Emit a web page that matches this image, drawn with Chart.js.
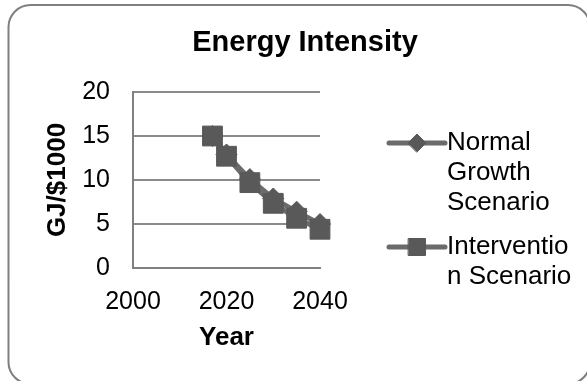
<!DOCTYPE html>
<html>
<head>
<meta charset="utf-8">
<title>Energy Intensity</title>
<script src="https://cdn.jsdelivr.net/npm/chart.js@4/dist/chart.umd.min.js"></script>
<style>
  html, body { margin: 0; padding: 0; background: #fff; }
  #wrap { width: 587px; height: 381px; }
</style>
</head>
<body>
<div id="wrap"><canvas id="c" width="587" height="381"></canvas></div>
<script>
// Years sampled by both scenarios
const years = [2017, 2020, 2025, 2030, 2035, 2040];
// Energy intensity, GJ per $1000
const normalGrowth = [15.0, 12.9, 10.1, 7.9, 6.4, 5.0];
const intervention = [15.0, 12.7, 9.7, 7.35, 5.65, 4.4];
// Legend text, wrapped the way it is shown
const normalLabel = ['Normal', 'Growth', 'Scenario'];
const interventionLabel = ['Interventio', 'n Scenario'];
// Axis ranges and tick spacing
const xRange = [2000, 2040], xStep = 20;
const yRange = [0, 20], yStep = 5;

const FONT = '"Liberation Sans", Arial, Helvetica, sans-serif';
const LINE = '#6b6b6b';
const MARK = '#595959';

const toPoints = vals => years.map((yr, i) => ({ x: yr, y: vals[i] }));

// Rounded frame around the whole chart
const framePlugin = {
  id: 'frame',
  beforeDraw(chart) {
    const ctx = chart.ctx;
    const x0 = 8.5, y0 = 5, x1 = 590, y1 = 384, r = 22;
    ctx.save();
    ctx.fillStyle = '#fff';
    ctx.fillRect(0, 0, chart.width, chart.height);
    ctx.beginPath();
    ctx.moveTo(x0 + r, y0);
    ctx.lineTo(x1 - r, y0);
    ctx.arcTo(x1, y0, x1, y0 + r, r);
    ctx.lineTo(x1, y1 - r);
    ctx.arcTo(x1, y1, x1 - r, y1, r);
    ctx.lineTo(x0 + r, y1);
    ctx.arcTo(x0, y1, x0, y1 - r, r);
    ctx.lineTo(x0, y0 + r);
    ctx.arcTo(x0, y0, x0 + r, y0, r);
    ctx.closePath();
    ctx.strokeStyle = '#7f7f7f';
    ctx.lineWidth = 2;
    ctx.stroke();
    ctx.restore();
  }
};

// Legend on the right with wrapped entry text
const sideLegend = {
  id: 'sideLegend',
  afterDraw(chart) {
    const ctx = chart.ctx;
    const entries = [
      { ds: chart.data.datasets[1], lines: normalLabel, y: 143, radius: 9 },
      { ds: chart.data.datasets[0], lines: interventionLabel, y: 247, radius: 12 }
    ];
    const lx0 = 389, lx1 = 445, tx = 447, lh = 30;
    ctx.save();
    entries.forEach(e => {
      ctx.beginPath();
      ctx.moveTo(lx0, e.y);
      ctx.lineTo(lx1, e.y);
      ctx.strokeStyle = e.ds.borderColor;
      ctx.lineWidth = 5;
      ctx.lineCap = 'round';
      ctx.stroke();
      ctx.fillStyle = e.ds.pointBackgroundColor;
      ctx.strokeStyle = e.ds.pointBorderColor;
      ctx.lineWidth = 1;
      Chart.helpers.drawPoint(ctx, {
        pointStyle: e.ds.pointStyle, radius: e.radius, rotation: 0, borderWidth: 1
      }, (lx0 + lx1) / 2, e.y);
      ctx.fillStyle = '#000';
      ctx.font = '26px ' + FONT;
      ctx.textAlign = 'left';
      ctx.textBaseline = 'middle';
      e.lines.forEach((t, i) => ctx.fillText(t, tx, e.y + i * lh));
    });
    ctx.restore();
  }
};

new Chart(document.getElementById('c'), {
  type: 'line',
  data: {
    datasets: [
      {
        label: 'Intervention Scenario',
        data: toPoints(intervention),
        order: 0,
        borderColor: LINE,
        borderWidth: 5,
        pointStyle: 'rect',
        pointRadius: 14,
        pointHoverRadius: 14,
        pointBackgroundColor: MARK,
        pointBorderColor: MARK,
        pointBorderWidth: 1,
        tension: 0,
        clip: false
      },
      {
        label: 'Normal Growth Scenario',
        data: toPoints(normalGrowth),
        order: 1,
        borderColor: LINE,
        borderWidth: 5,
        pointStyle: 'rectRot',
        pointRadius: 10.5,
        pointHoverRadius: 10.5,
        pointBackgroundColor: MARK,
        pointBorderColor: MARK,
        pointBorderWidth: 1,
        tension: 0,
        clip: false
      }
    ]
  },
  options: {
    responsive: false,
    animation: false,
    events: [],
    layout: { padding: { left: 23, right: 0, top: 0, bottom: 0 } },
    plugins: {
      legend: { display: false },
      tooltip: { enabled: false },
      title: {
        display: true,
        text: 'Energy Intensity',
        color: '#000',
        font: { family: FONT, size: 29, weight: 'bold', lineHeight: 1.2 },
        padding: { top: 25.6, bottom: 31.6 }
      }
    },
    scales: {
      x: {
        type: 'linear',
        min: xRange[0],
        max: xRange[1],
        ticks: {
          stepSize: xStep,
          color: '#000',
          padding: 19,
          maxRotation: 0,
          font: { family: FONT, size: 25, lineHeight: 1.2 },
          callback: v => String(v)
        },
        grid: { display: false, drawTicks: false, tickLength: 0 },
        border: { display: true, color: '#808080', width: 2 },
        title: {
          display: true,
          text: 'Year',
          color: '#000',
          font: { family: FONT, size: 26, weight: 'bold', lineHeight: 1.2 },
          padding: { top: 0, bottom: 27.4 }
        },
        afterFit: s => { s.height = 113; }
      },
      y: {
        type: 'linear',
        position: 'left',
        min: yRange[0],
        max: yRange[1],
        ticks: {
          stepSize: yStep,
          color: '#000',
          padding: 23,
          font: { family: FONT, size: 25, lineHeight: 1.2 }
        },
        grid: { color: '#8a8a8a', lineWidth: 2, drawTicks: false, tickLength: 0 },
        border: { display: true, color: '#808080', width: 2 },
        title: {
          display: true,
          text: 'GJ/$1000',
          color: '#000',
          font: { family: FONT, size: 26, weight: 'bold', lineHeight: 1.2 },
          padding: { top: 19.4, bottom: 0 }
        },
        afterFit: s => { s.width = 110; }
      },
      side: {
        type: 'linear',
        position: 'right',
        display: true,
        ticks: { display: false },
        grid: { display: false, drawTicks: false },
        border: { display: false },
        afterFit: s => { s.width = 267; }
      }
    }
  },
  plugins: [framePlugin, sideLegend]
});
</script>
</body>
</html>
